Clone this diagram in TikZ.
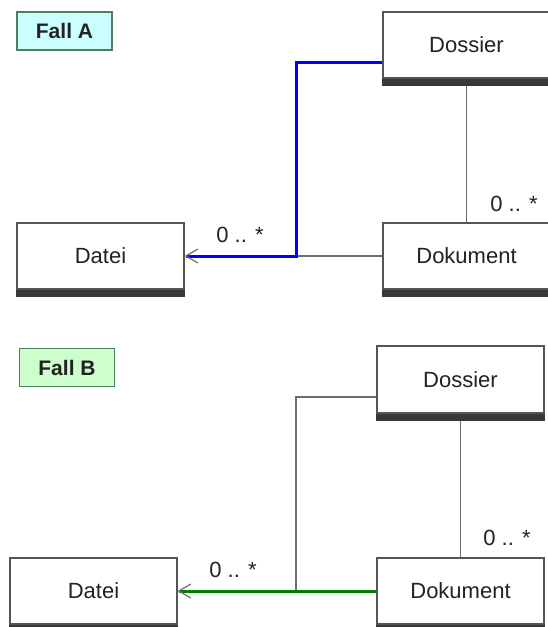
\documentclass[tikz,border=0pt]{standalone}
\usepackage{fontspec}
\setmainfont{Liberation Sans}
\usetikzlibrary{arrows.meta}
\definecolor{boxline}{HTML}{555555}
\definecolor{shadowc}{HTML}{383838}
\definecolor{linec}{HTML}{6E6E6E}
\definecolor{txt}{HTML}{222222}
\definecolor{fallAfill}{HTML}{CCFFFF}
\definecolor{fallBfill}{HTML}{CCFFCC}
\definecolor{fallborder}{HTML}{4E7E5C}
\definecolor{assocblue}{HTML}{0000FF}
\definecolor{assocgreen}{HTML}{008000}
\tikzset{
  classbox/.style={draw=boxline, line width=1.3pt, fill=white, minimum width=167pt, minimum height=66pt,
    inner sep=0pt, font=\fontsize{22}{26}\selectfont, text=txt},
  fallbox/.style={draw=fallborder, line width=1.3pt, minimum width=95pt, minimum height=38pt,
    inner sep=0pt, font=\bfseries\fontsize{21}{25}\selectfont, text=txt},
  thinline/.style={draw=linec, line width=1.3pt},
  mult/.style={font=\fontsize{22}{26}\selectfont, text=txt, inner sep=0pt},
  navarrow/.style={-{Straight Barb[length=12pt,width=14pt,color=linec,line width=1.2pt]}},
}
\begin{document}
\begin{tikzpicture}[x=1pt,y=-1pt]
\useasboundingbox (0,0) rectangle (547,627);
% Fall A
\node[fallbox, fill=fallAfill] (fallA) at (64.5,31) {Fall A};
\node[classbox] (dosA) at (466.5,45) {Dossier};
\node[classbox] (datA) at (100.5,256) {Datei};
\node[classbox] (dokA) at (466.5,256) {Dokument};
\foreach \n in {dosA,datA,dokA}{\fill[shadowc] ([yshift=-7pt]\n.south west) rectangle (\n.south east);}
\coordinate (jA) at (296,256);
\draw[thinline] (jA) -- (dokA.west);
\draw[thinline] ([yshift=-7pt]dosA.south) -- (dokA.north);
\draw[assocblue, line width=3pt, navarrow] ([yshift=-17pt]dosA.west) -| (jA) -- (datA.east);
\node[mult] (mA1) at (240,235) {0 .. *};
\node[mult] (mA2) at (514,204) {0 .. *};
% Fall B
\node[fallbox, fill=fallBfill] (fallB) at (67,367.5) {Fall B};
\node[classbox, minimum height=67pt] (dosB) at (460.5,379.5) {Dossier};
\node[classbox] (datB) at (93.5,591) {Datei};
\node[classbox] (dokB) at (460.5,591) {Dokument};
\foreach \n in {dosB,datB,dokB}{\fill[shadowc] ([yshift=-7pt]\n.south west) rectangle (\n.south east);}
\coordinate (jB) at (296,591);
\draw[thinline] ([yshift=-17.5pt]dosB.west) -| (jB);
\draw[thinline] ([yshift=-7pt]dosB.south) -- (dokB.north);
\draw[assocgreen, line width=3pt, navarrow] (dokB.west) -- (datB.east);
\node[mult] (mB1) at (233,570) {0 .. *};
\node[mult] (mB2) at (507,538) {0 .. *};
\end{tikzpicture}
\end{document}
